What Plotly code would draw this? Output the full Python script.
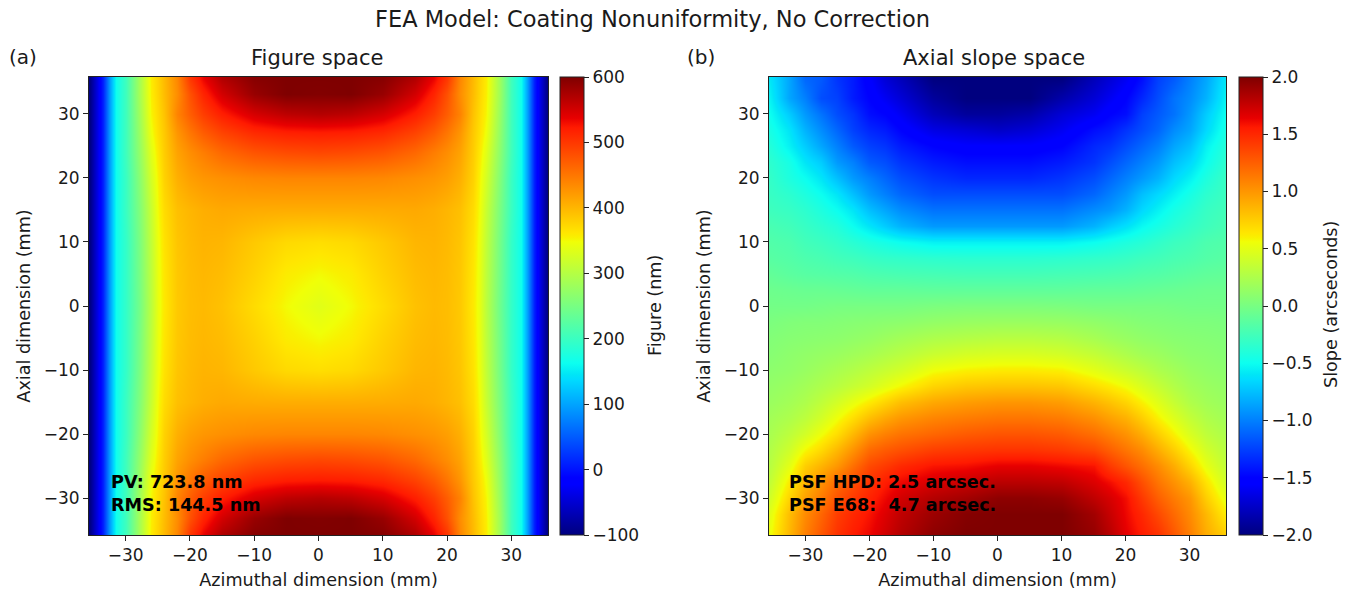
import plotly.graph_objects as go

W, H = 1346, 590
FONT = "DejaVu Sans"
TXT = "#1a1a1a"

# matplotlib "jet" anchor colours
jet_stops = [0, 0.11, 0.125, 0.34, 0.35, 0.375, 0.64, 0.65, 0.66, 0.89, 0.91, 1]
jet_colors = ["#00007f", "#0000ff", "#0000ff", "#00dcff", "#00e5f7", "#0cfff0", "#f0ff07",
              "#f9f000", "#ffe600", "#ff1a00", "#e80000", "#7f0000"]
# Figure space
fig_x = [-35.5, -34.5, -33.5, -32.5, -31.5, -30, -28, -26, -25, -24, -22, -20, -18, -15, -10, -5, 0,
         5, 10, 15, 18, 20, 22, 24, 25, 26, 28, 30, 31.5, 32.5, 33.5, 34.5, 35.5]
fig_y = [35.5, 33, 30, 27, 24, 20, 15, 10, 5, 0, -5, -10, -15, -20, -24, -27, -30, -33, -35.5]
fig_z = [
 [-95,-40,10,100,165,205,285,358,378,397,437,500,535,570,595,600,600,600,595,570,535,500,437,397,378,358,285,205,165,100,10,-40,-95],
 [-95,-40,10,100,165,205,285,356,376,395,432,480,515,550,585,600,598,600,585,550,515,480,432,395,376,356,285,205,165,100,10,-40,-95],
 [-95,-40,10,100,165,205,280,352,372,390,440,470,495,520,548,563,568,563,548,520,495,470,440,390,372,352,280,205,165,100,10,-40,-95],
 [-95,-40,10,100,165,205,275,345,368,385,425,450,470,490,510,518,520,518,510,490,470,450,425,385,368,345,275,205,165,100,10,-40,-95],
 [-95,-40,10,100,165,205,270,335,362,382,415,432,445,462,478,485,488,485,478,462,445,432,415,382,362,335,270,205,165,100,10,-40,-95],
 [-95,-40,10,100,165,200,262,325,355,378,405,418,425,430,436,438,438,438,436,430,425,418,405,378,355,325,262,200,165,100,10,-40,-95],
 [-95,-40,10,100,165,200,255,315,350,370,392,400,406,410,408,407,407,407,408,410,406,400,392,370,350,315,255,200,165,100,10,-40,-95],
 [-95,-40,10,100,165,195,250,310,345,365,388,397,402,400,385,372,368,372,385,400,402,397,388,365,345,310,250,195,165,100,10,-40,-95],
 [-95,-40,10,100,165,195,248,307,343,362,386,395,399,395,378,358,350,358,378,395,399,395,386,362,343,307,248,195,165,100,10,-40,-95],
 [-95,-40,10,100,165,195,245,305,342,360,385,394,397,391,370,350,335,350,370,391,397,394,385,360,342,305,245,195,165,100,10,-40,-95],
 [-95,-40,10,100,165,195,248,307,343,362,386,395,399,395,378,358,350,358,378,395,399,395,386,362,343,307,248,195,165,100,10,-40,-95],
 [-95,-40,10,100,165,195,250,310,345,365,388,397,402,400,385,372,368,372,385,400,402,397,388,365,345,310,250,195,165,100,10,-40,-95],
 [-95,-40,10,100,165,200,255,315,350,370,392,400,406,410,408,407,407,407,408,410,406,400,392,370,350,315,255,200,165,100,10,-40,-95],
 [-95,-40,10,100,165,200,262,325,355,378,405,418,425,430,436,438,438,438,436,430,425,418,405,378,355,325,262,200,165,100,10,-40,-95],
 [-95,-40,10,100,165,205,270,335,362,382,415,432,445,462,478,485,488,485,478,462,445,432,415,382,362,335,270,205,165,100,10,-40,-95],
 [-95,-40,10,100,165,205,275,345,368,385,425,450,470,490,510,518,520,518,510,490,470,450,425,385,368,345,275,205,165,100,10,-40,-95],
 [-95,-40,10,100,165,205,280,352,372,390,440,470,495,520,548,563,568,563,548,520,495,470,440,390,372,352,280,205,165,100,10,-40,-95],
 [-95,-40,10,100,165,205,285,356,376,395,432,480,515,550,585,600,598,600,585,550,515,480,432,395,376,356,285,205,165,100,10,-40,-95],
 [-95,-40,10,100,165,205,285,358,378,397,437,500,535,570,595,600,600,600,595,570,535,500,437,397,378,358,285,205,165,100,10,-40,-95],
]

# Axial slope space
slope_x = [-35.5, -32.5, -30, -27.5, -25, -22.5, -20, -17.5, -15, -10, -5, 0, 5, 10, 15, 17.5, 20, 22.5, 25, 27.5, 30, 32.5, 35.5]
slope_y = [35.5, 32.5, 30, 27.5, 25, 22.5, 20, 17.5, 15, 12.5, 10, 7.5, 5, 2.5, 0,
           -2.5, -5, -7.5, -10, -12.5, -15, -17.5, -20, -22.5, -25, -27.5, -30, -32.5, -35.5]
slope_z = [
 [-.6,-.85,-1.1,-1.15,-1.3,-1.4,-1.55,-1.7,-1.8,-2,-2,-2,-2,-2,-1.8,-1.7,-1.6,-1.45,-1.25,-1.15,-1,-.85,-.6],
 [-.55,-.85,-1,-1.2,-1.25,-1.4,-1.5,-1.6,-1.7,-1.9,-2,-2,-2,-1.85,-1.7,-1.6,-1.5,-1.35,-1.2,-1.05,-.95,-.8,-.55],
 [-.5,-.7,-.9,-1.05,-1.2,-1.3,-1.45,-1.5,-1.6,-1.8,-1.9,-1.9,-1.85,-1.7,-1.6,-1.5,-1.45,-1.25,-1.15,-1.05,-.9,-.7,-.5],
 [-.45,-.6,-.8,-.95,-1.1,-1.25,-1.35,-1.4,-1.5,-1.65,-1.7,-1.75,-1.7,-1.6,-1.45,-1.4,-1.3,-1.2,-1.1,-.95,-.85,-.65,-.45],
 [-.4,-.55,-.7,-.85,-1,-1.15,-1.25,-1.3,-1.4,-1.5,-1.55,-1.55,-1.55,-1.5,-1.35,-1.3,-1.2,-1.1,-1,-.85,-.75,-.55,-.4],
 [-.35,-.45,-.6,-.7,-.9,-1,-1.15,-1.2,-1.3,-1.4,-1.45,-1.45,-1.45,-1.4,-1.3,-1.2,-1.1,-1,-.9,-.75,-.65,-.5,-.35],
 [-.32,-.42,-.5,-.6,-.75,-.9,-1,-1.1,-1.2,-1.3,-1.35,-1.35,-1.35,-1.3,-1.2,-1.1,-1,-.9,-.8,-.65,-.55,-.42,-.3],
 [-.3,-.35,-.42,-.5,-.6,-.75,-.9,-1,-1.1,-1.2,-1.2,-1.2,-1.2,-1.2,-1.1,-1,-.9,-.75,-.65,-.55,-.45,-.35,-.28],
 [-.27,-.3,-.35,-.42,-.5,-.6,-.75,-.85,-.95,-1.05,-1.05,-1.05,-1.05,-1.05,-.95,-.9,-.8,-.65,-.55,-.45,-.38,-.3,-.25],
 [-.22,-.25,-.3,-.35,-.4,-.5,-.6,-.7,-.8,-.9,-.9,-.9,-.9,-.9,-.8,-.7,-.62,-.52,-.45,-.38,-.32,-.27,-.22],
 [-.18,-.2,-.25,-.28,-.32,-.37,-.42,-.46,-.5,-.55,-.55,-.55,-.55,-.55,-.5,-.46,-.42,-.38,-.33,-.28,-.25,-.2,-.18],
 [-.15,-.17,-.2,-.22,-.25,-.27,-.3,-.32,-.33,-.35,-.36,-.36,-.36,-.35,-.33,-.32,-.3,-.27,-.25,-.22,-.2,-.17,-.15],
 [-.1,-.13,-.15,-.16,-.17,-.18,-.2,-.21,-.22,-.23,-.24,-.24,-.24,-.23,-.22,-.21,-.2,-.18,-.17,-.15,-.13,-.11,-.1],
 [-.05,-.06,-.07,-.07,-.08,-.09,-.1,-.1,-.1,-.11,-.11,-.11,-.11,-.11,-.1,-.1,-.1,-.09,-.08,-.07,-.06,-.05,-.05],
 [-.02,-.02,-.02,-.01,0,0,0,0,0,.02,.03,.03,.03,.02,0,0,0,0,0,-.01,-.02,-.02,-.02],
 [.02,.04,.05,.05,.06,.07,.08,.09,.1,.13,.15,.16,.16,.15,.12,.1,.08,.06,.05,.04,.03,.03,.02],
 [.05,.07,.08,.09,.1,.12,.14,.17,.2,.25,.28,.3,.3,.28,.22,.18,.15,.12,.1,.08,.07,.06,.05],
 [.07,.1,.12,.14,.16,.19,.22,.26,.3,.38,.43,.45,.45,.42,.35,.3,.25,.2,.17,.13,.1,.09,.07],
 [.1,.12,.15,.19,.23,.27,.32,.37,.42,.55,.6,.62,.62,.6,.5,.44,.38,.32,.25,.2,.15,.12,.1],
 [.13,.16,.2,.25,.3,.36,.42,.5,.58,.72,.78,.8,.8,.78,.68,.62,.55,.45,.36,.27,.2,.16,.13],
 [.16,.2,.25,.33,.42,.52,.62,.72,.82,.92,.97,1,1,.97,.87,.8,.72,.6,.48,.36,.26,.2,.16],
 [.2,.25,.32,.42,.55,.68,.82,.92,1,1.08,1.12,1.15,1.15,1.12,1.03,.95,.88,.75,.6,.47,.35,.26,.2],
 [.23,.32,.42,.55,.68,.85,1.02,1.1,1.16,1.22,1.27,1.3,1.3,1.27,1.18,1.1,1.02,.9,.75,.6,.45,.33,.25],
 [.27,.4,.58,.7,.85,1.02,1.2,1.27,1.32,1.4,1.43,1.45,1.45,1.42,1.35,1.25,1.15,1.05,.9,.75,.58,.42,.3],
 [.3,.5,.75,.87,1,1.18,1.35,1.42,1.5,1.58,1.6,1.65,1.65,1.62,1.58,1.42,1.3,1.18,1.05,.9,.72,.52,.35],
 [.35,.62,.85,1.02,1.2,1.33,1.45,1.55,1.62,1.7,1.75,1.8,1.8,1.78,1.68,1.6,1.5,1.32,1.15,1.02,.88,.65,.42],
 [.42,.72,.95,1.12,1.3,1.42,1.52,1.62,1.72,1.82,1.88,1.95,1.95,1.92,1.78,1.7,1.6,1.42,1.25,1.12,1,.75,.52],
 [.5,.82,1.05,1.22,1.4,1.5,1.58,1.68,1.78,1.9,1.98,2,2,2,1.88,1.75,1.62,1.5,1.35,1.2,1.05,.85,.62],
 [.55,.85,1.1,1.28,1.45,1.55,1.62,1.72,1.82,1.95,2,2,2,2,1.92,1.8,1.65,1.55,1.45,1.28,1.1,.9,.75],
]

tick_vals = [-30, -20, -10, 0, 10, 20, 30]
fig_cbar_ticks = [-100, 0, 100, 200, 300, 400, 500, 600]
slope_cbar_ticks = [-2.0, -1.5, -1.0, -0.5, 0.0, 0.5, 1.0, 1.5, 2.0]

jet = [[s, c] for s, c in zip(jet_stops, jet_colors)]
tickfont = dict(family=FONT, size=17, color=TXT)
LABEL_SIZE = 17.6

def cbar(x_px, vals, text):
    return dict(x=x_px / W, xanchor="left", xpad=0, ypad=0, thickness=24, thicknessmode="pixels",
                len=458 / H, lenmode="fraction", y=(H - 535) / H, yanchor="bottom",
                outlinecolor="#222", outlinewidth=1, ticks="outside", ticklen=5, tickcolor="#222",
                tickvals=vals, ticktext=text, tickfont=tickfont)

fig = go.Figure()
fig.add_trace(go.Heatmap(x=fig_x, y=fig_y[::-1], z=fig_z[::-1], zmin=-100, zmax=600, zsmooth="best",
                         colorscale=jet, xaxis="x", yaxis="y",
                         colorbar=cbar(560, fig_cbar_ticks, [str(v).replace("-", "−") for v in fig_cbar_ticks])))
fig.add_trace(go.Heatmap(x=slope_x, y=slope_y[::-1], z=slope_z[::-1], zmin=-2, zmax=2, zsmooth="best",
                         colorscale=jet, xaxis="x2", yaxis="y2",
                         colorbar=cbar(1239, slope_cbar_ticks, [f"{v:.1f}".replace("-", "−") for v in slope_cbar_ticks])))

def axis(domain, anchor, title, standoff):
    return dict(domain=domain, anchor=anchor, range=[-35.7, 35.7], tickvals=tick_vals,
                ticktext=[str(v).replace("-", "−") for v in tick_vals], ticks="outside", ticklen=5,
                tickcolor="#222", showline=True, mirror=True, linecolor="#222", linewidth=1,
                showgrid=False, zeroline=False, tickfont=tickfont, automargin=False,
                title=dict(text=title, standoff=standoff, font=dict(family=FONT, size=LABEL_SIZE, color=TXT)))

yd = [(H - 535) / H, (H - 77) / H]
fig.update_layout(
    width=W, height=H, margin=dict(l=0, r=0, t=0, b=0), paper_bgcolor="white", plot_bgcolor="white",
    showlegend=False,
    xaxis=axis([89 / W, 548 / W], "y", "Azimuthal dimension (mm)", 9),
    yaxis=axis(yd, "x", "Axial dimension (mm)", 8),
    xaxis2=axis([769 / W, 1226 / W], "y2", "Azimuthal dimension (mm)", 9),
    yaxis2=axis(yd, "x2", "Axial dimension (mm)", 8),
)

def label(x, y, text, size, bold=False, anchor="left", angle=0):
    s = f"<b>{text}</b>" if bold else text
    fig.add_annotation(xref="paper", yref="paper", x=x / W, y=1 - y / H, text=s, showarrow=False,
                       xanchor=anchor, yanchor="middle", xshift=0, align="left", borderpad=0,
                       textangle=angle,
                       font=dict(family=FONT, size=size, color="#000" if bold else TXT))

label(652, 19, "FEA Model: Coating Nonuniformity, No Correction", 22.5, anchor="center")
label(8, 57, "(a)", 20)
label(686, 57, "(b)", 20)
label(317, 58, "Figure space", 21, anchor="center")
label(994, 58, "Axial slope space", 21, anchor="center")
label(110, 482, "PV: 723.8 nm", 17.6, True)
label(110, 505, "RMS: 144.5 nm", 17.6, True)
label(788, 482, "PSF HPD: 2.5 arcsec.", 17.6, True)
label(788, 505, "PSF E68:  4.7 arcsec.", 17.6, True)
label(655, 306, "Figure (nm)", LABEL_SIZE, anchor="center", angle=-90)
label(1331, 305, "Slope (arcseconds)", LABEL_SIZE, anchor="center", angle=-90)

fig.write_html("out.html", post_script="document.body.style.margin='0';", config={"displayModeBar": False})
